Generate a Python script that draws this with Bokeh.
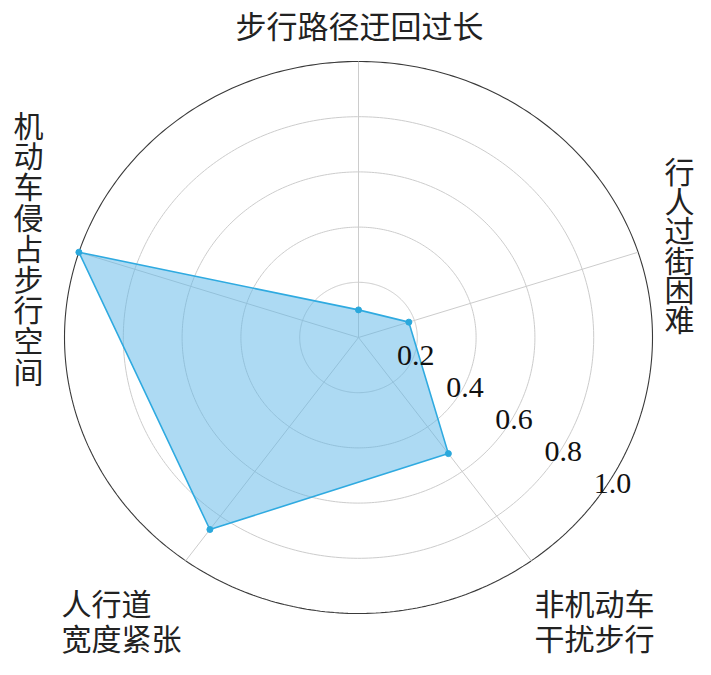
import numpy as np
from bokeh.plotting import figure
from bokeh.embed import file_html
from bokeh.resources import INLINE
from bokeh.core.properties import value

# ---- data ----
categories = ["步行路径迂回过长", "行人过街困难", "非机动车干扰步行", "人行道宽度紧张", "机动车侵占步行空间"]
values = [0.10, 0.18, 0.52, 0.86, 1.00]
ticks = [0.2, 0.4, 0.6, 0.8, 1.0]
tick_labels = ["0.2", "0.4", "0.6", "0.8", "1.0"]

# ---- layout (pixels of the figure) ----
W, H = 695, 659
CX, CY = 358, 337          # centre in figure pixels
SX, SY = 294.0, 276.0      # pixels per unit, x and y

def px2x(px):
    return (px - CX) / SX

def py2y(py):
    return (CY - py) / SY

p = figure(width=W, height=H, output_backend="svg", toolbar_location=None,
           x_range=(px2x(0), px2x(W)), y_range=(py2y(H), py2y(0)),
           min_border=0)
p.axis.visible = False
p.grid.visible = False
p.outline_line_color = None
p.background_fill_color = "white"
p.border_fill_color = "white"

n = len(categories)
angles = np.pi / 2 - np.arange(n) * 2 * np.pi / n

# grid rings
t = np.linspace(0, 2 * np.pi, 400)
for r in ticks:
    outer = r == ticks[-1]
    p.line(r * np.cos(t), r * np.sin(t), line_color="#3a3a3a" if outer else "#cccccc",
           line_width=1.1 if outer else 1.0)

# spokes
R = ticks[-1]
for a in angles:
    p.line([0, R * np.cos(a)], [0, R * np.sin(a)], line_color="#cccccc", line_width=1.0)

# polygon
vx = [v * np.cos(a) for v, a in zip(values, angles)]
vy = [v * np.sin(a) for v, a in zip(values, angles)]
p.patch(vx, vy, fill_color="#5bb6e8", fill_alpha=0.5, line_color="#2faae0", line_width=1.6)
p.scatter(vx, vy, size=6, fill_color="#2aa8dc", line_color="#2aa8dc")

cjk = value("Noto Sans CJK SC")
fs = "31px"
tc = "#222222"

# top label
p.text([px2x(359)], [py2y(23.5)], text=[categories[0]], text_font=cjk, text_font_size=fs,
       text_align="center", text_baseline="middle", text_color=tc)

# right label (vertical)
chars = list(categories[1])
p.text([px2x(679)] * len(chars), [py2y(169.7 + 29.5 * i) for i in range(len(chars))],
       text=chars, text_font=cjk, text_font_size="30px", text_align="center",
       text_baseline="middle", text_color=tc)

# left label (vertical)
chars = list(categories[4])
p.text([px2x(28)] * len(chars), [py2y(123 + 30.8 * i) for i in range(len(chars))],
       text=chars, text_font=cjk, text_font_size="30px", text_align="center",
       text_baseline="middle", text_color=tc)

# bottom labels (two lines)
def two_lines(s):
    k = 3 if s == categories[3] else 4
    return s[:k], s[k:]

bfs = "30px"
l1, l2 = two_lines(categories[3])
p.text([px2x(61)] * 2, [py2y(601), py2y(636)], text=[l1, l2], text_font=cjk,
       text_font_size=bfs, text_align="left", text_baseline="middle", text_color=tc)
l1, l2 = two_lines(categories[2])
p.text([px2x(534)] * 2, [py2y(601), py2y(636)], text=[l1, l2], text_font=cjk,
       text_font_size=bfs, text_align="left", text_baseline="middle", text_color=tc)

# radial tick labels
dir_x, dir_y = 246.0 / SX, -160.0 / SY
off_x, off_y = 8.0 / SX, 14.0 / SY
tx = [off_x + r * dir_x for r in ticks]
ty = [off_y + r * dir_y for r in ticks]
p.text(tx, ty, text=tick_labels, text_font=value("Liberation Serif"), text_font_size="30px",
       text_align="center", text_baseline="middle", text_color="#111111")

open("out.html", "w").write(file_html(p, INLINE))
